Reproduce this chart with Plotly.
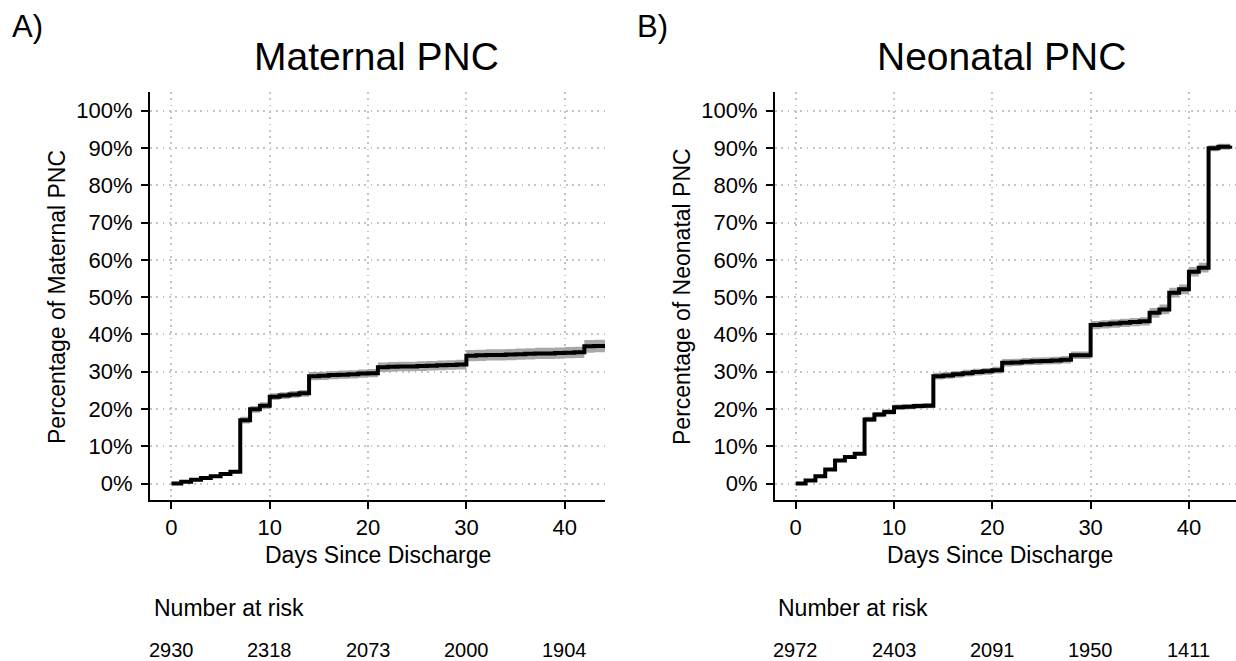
import plotly.graph_objects as go

# ---------------- data ----------------
mat_days = [0, 1, 2, 3, 4, 5, 6, 7, 8, 9, 10, 11, 12, 13, 14, 15, 16, 17, 18, 19, 20,
            21, 22, 23, 24, 25, 26, 27, 28, 29, 30, 31, 32, 33, 34, 35, 36, 37, 38, 39, 40,
            41, 42, 43, 44.1]
mat_est = [0.0, 0.5, 1.0, 1.5, 2.0, 2.6, 3.2, 17.0, 19.9, 20.9, 23.3, 23.6, 23.9, 24.2,
           28.8, 28.9, 29.1, 29.2, 29.3, 29.5, 29.6, 31.2, 31.3, 31.4, 31.4, 31.5, 31.6,
           31.7, 31.8, 31.9, 34.3, 34.4, 34.5, 34.5, 34.6, 34.7, 34.8, 34.9, 34.9, 35.0,
           35.1, 35.2, 36.8, 36.9, 36.9]
mat_lower = [0.0, 0.3, 0.8, 1.2, 1.7, 2.3, 2.8, 16.1, 19.0, 20.0, 22.4, 22.7, 23.0, 23.3,
             27.7, 27.8, 28.0, 28.1, 28.2, 28.4, 28.5, 29.9, 30.0, 30.1, 30.1, 30.2, 30.3,
             30.4, 30.5, 30.6, 32.8, 32.9, 33.0, 33.0, 33.1, 33.2, 33.3, 33.4, 33.4, 33.5,
             33.6, 33.7, 35.1, 35.2, 35.2]
mat_upper = [0.0, 0.7, 1.2, 1.8, 2.3, 2.9, 3.6, 17.9, 20.8, 21.8, 24.2, 24.5, 24.8, 25.1,
             29.9, 30.0, 30.2, 30.3, 30.4, 30.6, 30.7, 32.5, 32.6, 32.7, 32.7, 32.8, 32.9,
             33.0, 33.1, 33.2, 35.8, 35.9, 36.0, 36.0, 36.1, 36.2, 36.3, 36.4, 36.4, 36.5,
             36.6, 36.7, 38.5, 38.6, 38.6]

neo_days = [0, 1, 2, 3, 4, 5, 6, 7, 8, 9, 10, 11, 12, 13, 14, 15, 16, 17, 18, 19, 20,
            21, 22, 23, 24, 25, 26, 27, 28, 29, 30, 31, 32, 33, 34, 35, 36, 37, 38, 39, 40,
            41, 42, 43, 44.2]
neo_est = [0.0, 0.8, 2.0, 3.8, 6.2, 7.1, 8.0, 17.2, 18.5, 19.2, 20.5, 20.6, 20.8, 20.9,
           28.8, 29.0, 29.3, 29.6, 29.9, 30.1, 30.4, 32.4, 32.5, 32.7, 32.8, 32.9, 33.0,
           33.2, 34.4, 34.4, 42.5, 42.7, 42.9, 43.1, 43.3, 43.5, 45.8, 46.7, 51.2, 52.1,
           56.8, 57.9, 89.9, 90.3, 90.6]
neo_lower = [0.0, 0.6, 1.7, 3.4, 5.8, 6.7, 7.6, 16.5, 17.8, 18.5, 19.8, 19.9, 20.1, 20.2,
             27.9, 28.1, 28.4, 28.7, 29.0, 29.2, 29.5, 31.4, 31.5, 31.7, 31.8, 31.9, 32.0,
             32.2, 33.4, 33.4, 41.4, 41.6, 41.8, 42.0, 42.2, 42.4, 44.5, 45.4, 49.9, 50.8,
             55.5, 56.6, 89.1, 89.5, 89.8]
neo_upper = [0.0, 1.0, 2.3, 4.2, 6.6, 7.5, 8.4, 17.9, 19.2, 19.9, 21.2, 21.3, 21.5, 21.6,
             29.7, 29.9, 30.2, 30.5, 30.8, 31.0, 31.3, 33.4, 33.5, 33.7, 33.8, 33.9, 34.0,
             34.2, 35.4, 35.4, 43.6, 43.8, 44.0, 44.2, 44.4, 44.6, 47.1, 48.0, 52.5, 53.4,
             58.1, 59.2, 90.7, 91.1, 91.4]

risk_days = [0, 10, 20, 30, 40]
mat_risk = [2930, 2318, 2073, 2000, 1904]
neo_risk = [2972, 2403, 2091, 1950, 1411]

y_ticks = [0, 10, 20, 30, 40, 50, 60, 70, 80, 90, 100]
y_labels = ["0%", "10%", "20%", "30%", "40%", "50%", "60%", "70%", "80%", "90%", "100%"]
x_ticks = [0, 10, 20, 30, 40]
x_labels = ["0", "10", "20", "30", "40"]

# ---------------- figure ----------------
W, H = 1236, 661
FONT = "Liberation Sans, Arial, sans-serif"
BAND = "#a8a8a8"

fig = go.Figure()


def add_panel(days, est, lo, hi, xa, ya):
    fig.add_trace(go.Scatter(x=days, y=lo, mode="lines", line=dict(width=0, shape="hv", color=BAND),
                             xaxis=xa, yaxis=ya, hoverinfo="skip", showlegend=False))
    fig.add_trace(go.Scatter(x=days, y=hi, mode="lines", line=dict(width=0, shape="hv", color=BAND),
                             fill="tonexty", fillcolor=BAND, xaxis=xa, yaxis=ya,
                             hoverinfo="skip", showlegend=False))
    fig.add_trace(go.Scatter(x=days, y=est, mode="lines", line=dict(width=4, shape="hv", color="black"),
                             xaxis=xa, yaxis=ya, showlegend=False))


add_panel(mat_days, mat_est, mat_lower, mat_upper, "x", "y")
add_panel(neo_days, neo_est, neo_lower, neo_upper, "x2", "y2")

ydom = [(H - 500) / H, (H - 92) / H]

common_x = dict(
    tickmode="array", tickvals=x_ticks, ticktext=x_labels, showline=True, linecolor="black", linewidth=2,
    ticks="outside", ticklen=7, tickwidth=2, tickcolor="black",
    tickfont=dict(family=FONT, size=22, color="black"),
    showgrid=True, gridcolor="#c4c4c4", gridwidth=1.7, griddash="1.7px,4.6px",
    zeroline=False, mirror=False, fixedrange=True,
)
common_y = dict(
    tickmode="array", tickvals=y_ticks, ticktext=y_labels, range=[-4.4, 105.0],
    showline=True, linecolor="black", linewidth=2,
    ticks="outside", ticklen=7, tickwidth=2, tickcolor="black", ticklabelstandoff=4,
    tickfont=dict(family=FONT, size=22, color="black"),
    showgrid=True, gridcolor="#c4c4c4", gridwidth=1.7, griddash="1.7px,4.6px",
    zeroline=False, domain=ydom, fixedrange=True,
)

fig.update_layout(
    width=W, height=H, margin=dict(l=0, r=0, t=0, b=0, pad=0),
    paper_bgcolor="white", plot_bgcolor="white", showlegend=False,
    font=dict(family=FONT, color="black"),
    xaxis=dict(common_x, domain=[150 / W, 605 / W], range=[-2.18, 44.1], anchor="y"),
    yaxis=dict(common_y, anchor="x"),
    xaxis2=dict(common_x, domain=[775 / W, 1.0], range=[-2.11, 44.79], anchor="y2"),
    yaxis2=dict(common_y, anchor="x2"),
)

ann = []


def txt(text, x, y, size, xanchor="center", xref="paper", angle=0):
    ann.append(dict(text=text, x=x, y=y, xref=xref, yref="paper", xanchor=xanchor,
                    yanchor="middle", showarrow=False, textangle=angle,
                    font=dict(family=FONT, size=size, color="black")))


def py(ypix):
    return (H - ypix) / H


# panel letters & titles
txt("A)", 10 / W, py(26), 31, xanchor="left")
txt("B)", 635 / W, py(26.5), 31, xanchor="left")
txt("Maternal PNC", 376 / W, py(56), 39)
txt("Neonatal PNC", 1001 / W, py(56), 39)
# axis titles
txt("Days Since Discharge", 377.5 / W, py(554.5), 23)
txt("Days Since Discharge", 1000 / W, py(554.5), 23)
txt("Percentage of Maternal PNC", 57 / W, py(297), 23, angle=-90)
txt("Percentage of Neonatal PNC", 682 / W, py(297), 23, angle=-90)
# number at risk
txt("Number at risk", 151.7 / W, py(608), 23, xanchor="left")
txt("Number at risk", 776 / W, py(608), 23, xanchor="left")
for d, n in zip(risk_days, mat_risk):
    txt(str(n), d, py(650), 20, xref="x")
for d, n in zip(risk_days, neo_risk):
    txt(str(n), d, py(650), 20, xref="x2")

fig.update_layout(annotations=ann)

fig.write_html("out.html", config={"displayModeBar": False},
               post_script="document.body.style.margin='0';document.body.style.overflow='hidden';")
